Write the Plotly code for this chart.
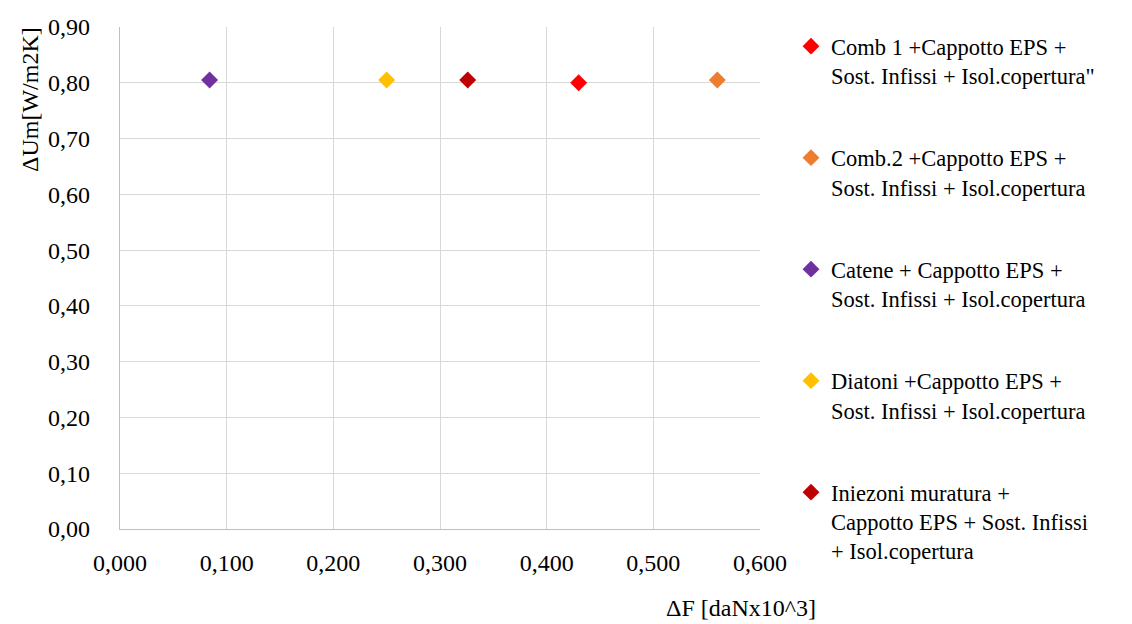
import plotly.graph_objects as go

# Interventions: seismic gain ΔF vs. thermal gain ΔUm
labels = [
    "Comb 1 +Cappotto EPS +<br>Sost. Infissi + Isol.copertura\"",
    "Comb.2 +Cappotto EPS +<br>Sost. Infissi + Isol.copertura",
    "Catene + Cappotto EPS +<br>Sost. Infissi + Isol.copertura",
    "Diatoni +Cappotto EPS +<br>Sost. Infissi + Isol.copertura",
    "Iniezoni muratura +<br>Cappotto EPS + Sost. Infissi<br>+ Isol.copertura",
]
delta_f = [0.430, 0.560, 0.084, 0.250, 0.326]
delta_um = [0.800, 0.805, 0.805, 0.805, 0.805]
colors = ["#FF0000", "#ED7D31", "#7030A0", "#FFC000", "#C00000"]

FONT = "Liberation Serif"
FS = 24
LEG_FS = 22.5
fig = go.Figure()
for i, (lab, xv, yv, c) in enumerate(zip(labels, delta_f, delta_um, colors)):
    fig.add_trace(go.Scatter(
        x=[xv], y=[yv], mode="markers", name=lab, legendgroup=f"g{i}",
        marker=dict(symbol="diamond", size=13, color=c),
    ))

fig.update_layout(
    width=1132, height=624,
    margin=dict(l=120, r=372, t=27, b=95, autoexpand=False),
    paper_bgcolor="white", plot_bgcolor="white",
    separators=", ",
    font=dict(family=FONT, size=FS, color="#000000"),
    showlegend=True,
    legend=dict(
        xref="container", yref="container", x=791 / 1132, y=1 - 25 / 624,
        xanchor="left", yanchor="top", valign="top",
        font=dict(family=FONT, size=LEG_FS), tracegroupgap=50,
        itemwidth=30, bgcolor="rgba(0,0,0,0)", maxheight=620,
    ),
    xaxis=dict(
        range=[0, 0.6], dtick=0.1, tick0=0, tickformat=".3f",
        showgrid=True, gridcolor="#D9D9D9", gridwidth=1.3,
        showline=True, linecolor="#BFBFBF", linewidth=1.3,
        zeroline=False, ticks="", ticklabelstandoff=12,
        tickfont=dict(family=FONT, size=FS), fixedrange=True,
    ),
    yaxis=dict(
        range=[0, 0.9], dtick=0.1, tick0=0, tickformat=".2f",
        showgrid=True, gridcolor="#D9D9D9", gridwidth=1.3,
        showline=True, linecolor="#BFBFBF", linewidth=1.3,
        zeroline=False, ticks="", ticklabelstandoff=24,
        tickfont=dict(family=FONT, size=FS), fixedrange=True,
    ),
    annotations=[
        dict(text="ΔUm[W/m2K]", textangle=-90, xref="paper", yref="paper",
             x=(30 - 120) / 640, y=(529 - 100) / 502, showarrow=False,
             xanchor="center", yanchor="middle", font=dict(family=FONT, size=FS)),
        dict(text="ΔF [daNx10^3]", xref="paper", yref="paper",
             x=(741 - 120) / 640, y=(529 - 608) / 502, showarrow=False,
             xanchor="center", yanchor="middle", font=dict(family=FONT, size=FS)),
    ],
)

fig.write_html("out.html")
